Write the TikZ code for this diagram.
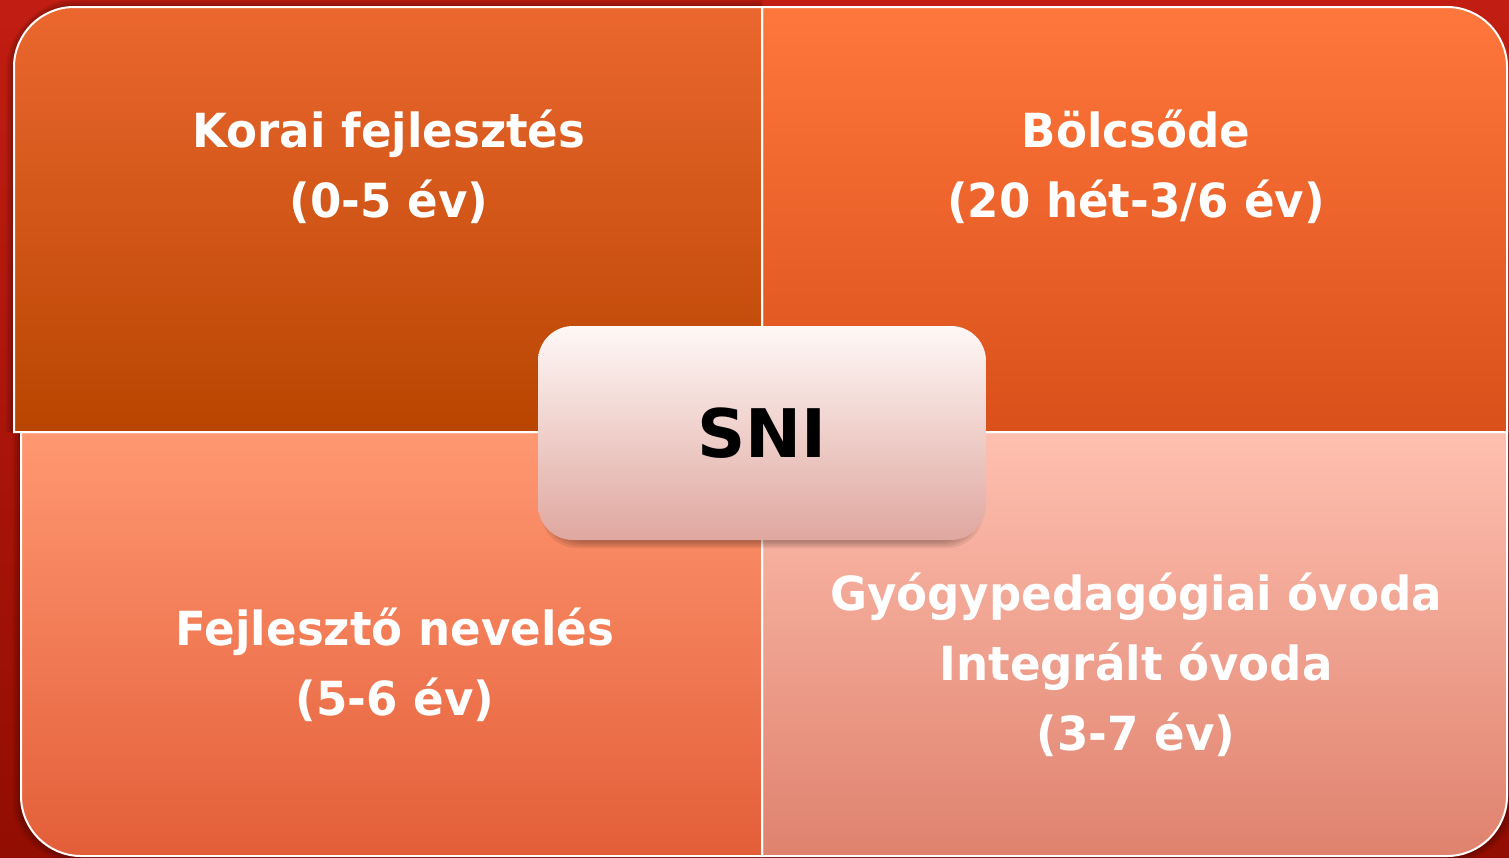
\documentclass[tikz,border=0pt]{standalone}
\usepackage{fontspec}
\setmainfont{DejaVu Sans}
\newfontfamily\lblfont{DejaVu Sans}[FakeStretch=0.96]
\usetikzlibrary{shadows}
\definecolor{bgtop}{HTML}{C21D12}
\definecolor{bgbot}{HTML}{920D02}
\definecolor{tltop}{HTML}{EB672F}
\definecolor{tlbot}{HTML}{B84500}
\definecolor{trtop}{HTML}{FF773C}
\definecolor{trbot}{HTML}{D9501A}
\definecolor{bltop}{HTML}{FF9872}
\definecolor{blbot}{HTML}{E35E38}
\definecolor{brtop}{HTML}{FFC0B0}
\definecolor{brbot}{HTML}{DF826E}
\definecolor{snitop}{HTML}{FFF8F6}
\definecolor{snibot}{HTML}{DFA79F}
\tikzset{
  lbl/.style={text=white, align=center, font=\lblfont\bfseries\fontsize{47}{70}\selectfont},
  edge/.style={draw=white, line width=2pt},
  shadowlayer/.style={fill=black, opacity=0.07},
}
\begin{document}
\begin{tikzpicture}[x=1pt,y=-1pt]
\useasboundingbox (0,0) rectangle (1509,857);
% background
\shade[top color=bgtop, bottom color=bgbot] (0,0) rectangle (1509,857);
% soft shadows of the quadrants
\foreach \d in {2,4,6,8}{
  \fill[shadowlayer] (14-\d,432) -- (14-\d,67) .. controls (14-\d,34) and (41,7-\d) .. (74,7-\d) -- (762,7-\d) -- (762,432) -- cycle;
  \fill[shadowlayer] (21-\d,432) -- (21-\d,796+\d) .. controls (21-\d,829+\d) and (48,856+\d) .. (81,856+\d) -- (762,856+\d) -- (762,432) -- cycle;
  \fill[shadowlayer] (762,432) -- (1507+\d,432) -- (1507+\d,796+\d) .. controls (1507+\d,829+\d) and (1480,856+\d) .. (1447,856+\d) -- (762,856+\d) -- cycle;
}
% top-left quadrant
\shade[top color=tltop, bottom color=tlbot] (14,432) -- (14,67) .. controls (14,34) and (41,7) .. (74,7) -- (762,7) -- (762,432) -- cycle;
% top-right quadrant
\shade[top color=trtop, bottom color=trbot] (762,7) -- (1447,7) .. controls (1480,7) and (1507,34) .. (1507,67) -- (1507,432) -- (762,432) -- cycle;
% bottom-left quadrant
\shade[top color=bltop, bottom color=blbot] (21,432) -- (21,796) .. controls (21,829) and (48,856) .. (81,856) -- (762,856) -- (762,432) -- cycle;
% bottom-right quadrant
\shade[top color=brtop, bottom color=brbot] (762,432) -- (1507,432) -- (1507,796) .. controls (1507,829) and (1480,856) .. (1447,856) -- (762,856) -- cycle;
% white borders
\draw[edge] (14,432) -- (14,67) .. controls (14,34) and (41,7) .. (74,7) -- (762,7) -- (762,432) -- cycle;
\draw[edge] (762,7) -- (1447,7) .. controls (1480,7) and (1507,34) .. (1507,67) -- (1507,432) -- (762,432) -- cycle;
\draw[edge] (21,432) -- (21,796) .. controls (21,829) and (48,856) .. (81,856) -- (762,856) -- (762,432) -- cycle;
\draw[edge] (762,432) -- (1507,432) -- (1507,796) .. controls (1507,829) and (1480,856) .. (1447,856) -- (762,856) -- cycle;
% labels
\node[lbl] (tl) at (389,167) {Korai fejlesztés\\(0-5 év)};
\node[lbl] (tr) at (1136,167) {Bölcsőde\\(20 hét-3/6 év)};
\node[lbl] (bl) at (395,665) {Fejlesztő nevelés\\(5-6 év)};
\node[lbl] (br) at (1136,665) {Gyógypedagógiai óvoda\\Integrált óvoda\\(3-7 év)};
% centre box shadow
\foreach \d in {0,2,4,6}{
  \fill[black, opacity=0.08, rounded corners=36pt] (541+\d,333+\d) rectangle (983-\d,548-\d);
}
\node[rounded corners=35pt, minimum width=448pt, minimum height=214pt, top color=snitop, bottom color=snibot, inner sep=0pt,
      font=\bfseries\fontsize{67}{80}\selectfont, text=black] (sni) at (762,433) {SNI};
\end{tikzpicture}
\end{document}
